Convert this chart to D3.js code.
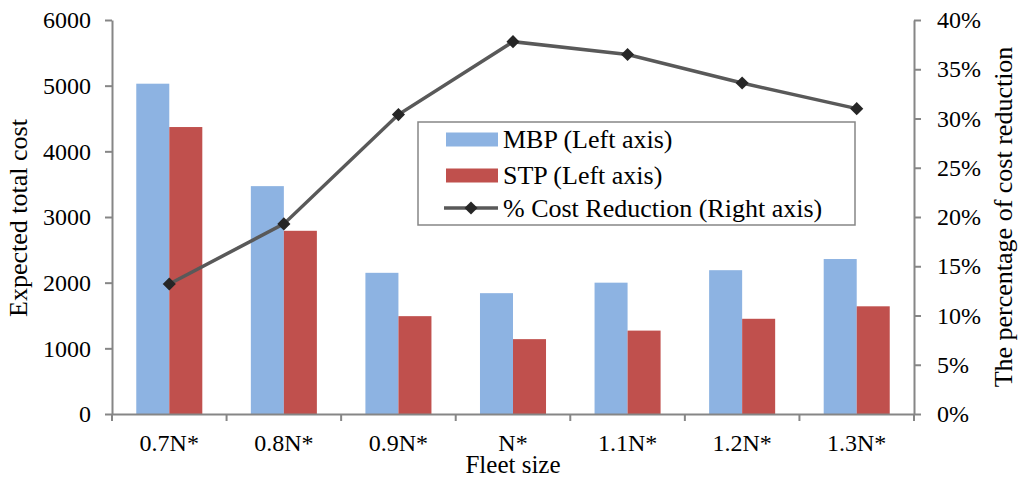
<!DOCTYPE html>
<html>
<head>
<meta charset="utf-8">
<script src="https://cdn.jsdelivr.net/npm/d3@7"></script>
<style>
  body { margin: 0; background: #fff; }
</style>
</head>
<body>
<svg id="chart" width="1021" height="479" font-family="Liberation Serif">
  <text x="513" y="473" text-anchor="middle" font-family="Liberation Serif" font-size="25">Fleet size</text>
  <text transform="translate(26.5,218) rotate(-90)" text-anchor="middle" font-family="Liberation Serif" font-size="26">Expected total cost</text>
  <text transform="translate(1012,217) rotate(-90)" text-anchor="middle" font-family="Liberation Serif" font-size="26">The percentage of cost reduction</text>
</svg>
<script>
// 数据
const categories = ["0.7N*", "0.8N*", "0.9N*", "N*", "1.1N*", "1.2N*", "1.3N*"];
const mbpValues = [5030, 3470, 2150, 1840, 2000, 2190, 2360];
const stpValues = [4370, 2790, 1490, 1140, 1270, 1450, 1640];
const reductionValues = [0.132, 0.193, 0.304, 0.378, 0.365, 0.336, 0.310];
const leftTicks = [0, 1000, 2000, 3000, 4000, 5000, 6000];
const rightTicks = [0, 0.05, 0.1, 0.15, 0.2, 0.25, 0.3, 0.35, 0.4];

const seriesNames = ["MBP", "STP"];
const colors = { MBP: "#8db3e2", STP: "#c0504d", line: "#595959", marker: "#262626" };
const FONT = "Liberation Serif";
const TICK_FS = 24;
const LEGEND_FS = 26;

const svg = d3.select("#chart");
const margin = { left: 112, right: 914, top: 20, bottom: 414 };

// 比例尺
const x0 = d3.scaleBand().domain(categories).range([margin.left, margin.right]).paddingInner(0);
const x1 = d3.scaleBand().domain(seriesNames).range([0, x0.bandwidth()]).paddingInner(0).paddingOuter(0.735);
const yLeft = d3.scaleLinear().domain([0, 6000]).range([margin.bottom, margin.top]);
const yRight = d3.scaleLinear().domain([0, 0.4]).range([margin.bottom, margin.top]);

// 柱子
const groups = svg.append("g").selectAll("g")
    .data(categories.map((c, i) => ({ c, MBP: mbpValues[i], STP: stpValues[i] })))
    .enter().append("g")
    .attr("transform", d => `translate(${x0(d.c)},0)`);

groups.selectAll("rect")
    .data(d => seriesNames.map(k => ({ k, v: d[k] })))
    .enter().append("rect")
    .attr("x", d => x1(d.k))
    .attr("width", x1.bandwidth())
    .attr("y", d => yLeft(d.v))
    .attr("height", d => yLeft(0) - yLeft(d.v))
    .attr("fill", d => colors[d.k]);

// 坐标轴
function styleAxis(g) {
    g.attr("font-family", null).attr("font-size", null);
    g.select(".domain").attr("stroke", "#868686").attr("stroke-width", 2);
    g.selectAll(".tick line").attr("stroke", "#868686").attr("stroke-width", 2);
    g.selectAll(".tick text").attr("fill", "#000")
        .style("font-family", FONT).style("font-size", TICK_FS + "px");
}

svg.append("g")
    .attr("transform", `translate(${margin.left},0)`)
    .call(d3.axisLeft(yLeft).tickValues(leftTicks).tickSize(7).tickSizeOuter(0).tickPadding(14).tickFormat(d3.format("d")))
    .call(styleAxis);

svg.append("g")
    .attr("transform", `translate(${margin.right},0)`)
    .call(d3.axisRight(yRight).tickValues(rightTicks).tickSize(7).tickSizeOuter(0).tickPadding(16).tickFormat(d3.format(".0%")))
    .call(styleAxis);

const xAxis = svg.append("g")
    .attr("transform", `translate(0,${margin.bottom})`)
    .call(d3.axisBottom(x0).tickSize(0).tickSizeOuter(0))
    .call(styleAxis);
xAxis.selectAll(".tick text").attr("y", 37).attr("dy", "0");

// x 轴分隔刻度
svg.append("g").selectAll("line")
    .data(categories.concat(["end"]))
    .enter().append("line")
    .attr("x1", (d, i) => margin.left + i * x0.step())
    .attr("x2", (d, i) => margin.left + i * x0.step())
    .attr("y1", margin.bottom)
    .attr("y2", margin.bottom + 7)
    .attr("stroke", "#868686")
    .attr("stroke-width", 2);

// 折线
const linePts = categories.map((c, i) => [x0(c) + x0.bandwidth() / 2, yRight(reductionValues[i])]);
svg.append("path")
    .attr("d", d3.line()(linePts))
    .attr("fill", "none")
    .attr("stroke", colors.line)
    .attr("stroke-width", 3.5);

const diamond = d3.symbol().type(d3.symbolDiamond2).size(110);
svg.append("g").selectAll("path")
    .data(linePts)
    .enter().append("path")
    .attr("transform", d => `translate(${d[0]},${d[1]})`)
    .attr("d", diamond)
    .attr("fill", colors.marker);

// 图例
const legend = svg.append("g");
legend.append("rect")
    .attr("x", 418).attr("y", 122).attr("width", 437).attr("height", 103)
    .attr("fill", "#fff").attr("stroke", "#868686").attr("stroke-width", 1.5);

const legendItems = [
    { label: "MBP (Left axis)", type: "rect", color: colors.MBP, y: 139.5 },
    { label: "STP (Left axis)", type: "rect", color: colors.STP, y: 175.5 },
    { label: "% Cost Reduction (Right axis)", type: "line", color: colors.line, y: 208 }
];

legendItems.forEach(d => {
    if (d.type === "rect") {
        legend.append("rect")
            .attr("x", 446).attr("y", d.y - 7).attr("width", 52).attr("height", 14)
            .attr("fill", d.color);
    } else {
        legend.append("line")
            .attr("x1", 444).attr("x2", 498).attr("y1", d.y).attr("y2", d.y)
            .attr("stroke", d.color).attr("stroke-width", 3.5);
        legend.append("path")
            .attr("transform", `translate(471,${d.y})`)
            .attr("d", diamond)
            .attr("fill", colors.marker);
    }
    legend.append("text")
        .attr("x", 503).attr("y", d.y)
        .attr("dy", "0.33em")
        .style("font-family", FONT).style("font-size", LEGEND_FS + "px")
        .text(d.label);
});
</script>
</body>
</html>
